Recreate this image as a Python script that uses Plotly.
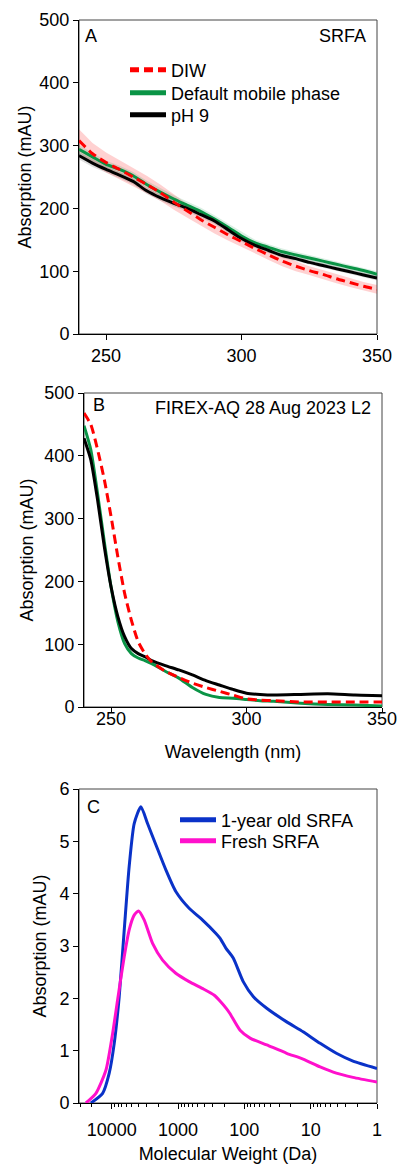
import plotly.graph_objects as go

# ---------------- Panel A data (SRFA) ----------------
wl_a = [240, 245, 250, 255, 260, 265, 270, 275, 280, 285, 290, 295, 300,
        305, 310, 315, 320, 325, 330, 335, 340, 345, 350]
diw_a = [308, 287, 273, 262, 250, 238, 225, 210, 196, 182, 170, 158, 147,
         136, 126, 116, 108, 101, 95, 88, 82, 76, 71]
diw_a_err = [18, 17, 16, 15, 15, 14, 13, 12, 11, 10, 10, 9, 9,
             8, 8, 8, 8, 7, 7, 7, 7, 7, 7]
dmp_a = [294, 282, 270, 262, 252, 238, 226, 215, 205, 195, 183, 170, 156,
         145, 138, 131, 126, 121, 116, 111, 106, 101, 95]
dmp_a_err = [7, 7, 6, 6, 6, 6, 6, 6, 6, 6, 6, 6, 6,
             5, 5, 5, 5, 5, 5, 5, 5, 5, 5]
ph9_a = [284, 272, 262, 253, 243, 228, 217, 208, 200, 190, 180, 166, 152,
         141, 133, 125, 120, 114, 109, 104, 99, 94, 89]
ph9_a_err = [6, 6, 5, 5, 5, 5, 5, 5, 5, 5, 5, 5, 5,
             4, 4, 4, 4, 4, 4, 4, 4, 4, 4]

# ---------------- Panel B data (FIREX-AQ 28 Aug 2023 L2) ----------------
wl_b = [240, 242.5, 245, 247.5, 250, 252.5, 255, 257.5, 260, 262.5, 265,
        270, 275, 280, 285, 290, 295, 300, 305, 310, 320, 330, 340, 350]
diw_b = [468, 450, 410, 362, 303, 239, 181, 138, 104, 85, 72,
         57, 47, 38, 31, 25, 19, 13, 11, 10, 8, 8, 8, 8]
dmp_b = [448, 410, 340, 263, 191, 136, 101, 85, 78, 74, 69,
         57, 46, 31, 20, 15, 14, 12, 10, 9, 6, 4, 3, 1.5]
ph9_b = [428, 394, 330, 255, 191, 144, 112, 93, 85, 80, 74,
         66, 59, 51, 42, 35, 28, 22, 20, 19, 20, 21, 19, 18]

# ---------------- Panel C data (SEC, molecular weight) ----------------
mw_old = [20600, 13700, 10900, 9160, 7710, 6470, 5450, 4580, 3630, 2880,
          2150, 1520, 1080, 680, 430, 268, 233, 190, 147, 104, 73, 46,
          23, 13, 7.2, 4.1, 2.3, 1.0]
abs_old = [0, 0.185, 0.57, 1.14, 2.03, 3.31, 4.52, 5.34, 5.66, 5.34,
           4.93, 4.45, 4.04, 3.72, 3.50, 3.24, 3.15, 2.96, 2.77, 2.32, 2.03, 1.81,
           1.55, 1.36, 1.14, 0.95, 0.80, 0.66]
mw_fresh = [24500, 17300, 12200, 9680, 8150, 6470, 5450, 4580, 3940, 3240,
            2420, 1710, 1080, 680, 430, 284, 233, 185, 165, 116, 82, 46,
            23, 13, 7.2, 4.1, 2.3, 1.0]
abs_fresh = [0, 0.185, 0.63, 1.33, 1.97, 2.80, 3.31, 3.59, 3.67, 3.50,
             3.05, 2.73, 2.48, 2.32, 2.19, 2.06, 1.95, 1.80, 1.71, 1.39, 1.24, 1.11,
             0.95, 0.84, 0.69, 0.57, 0.49, 0.40]

wl_ticks = [250, 300, 350]
abs_ticks = [0, 100, 200, 300, 400, 500]

RED = "#ff0000"
GREEN = "#0a9446"
BLACK = "#000000"
BLUE = "#0a32c8"
PINK = "#ff10cc"
FONT = "Liberation Sans, Arial, sans-serif"

W, H = 401, 1166


def xd(a, b):
    return [a / W, b / W]


def yd(top, bottom):
    return [1 - bottom / H, 1 - top / H]


fig = go.Figure()


def band(x, y, err, color, xa, ya):
    upper = [v + e for v, e in zip(y, err)]
    lower = [v - e for v, e in zip(y, err)]
    fig.add_trace(go.Scatter(x=list(x) + list(x)[::-1], y=upper + lower[::-1],
                             fill="toself", fillcolor=color, line=dict(width=0),
                             mode="lines", showlegend=False, hoverinfo="skip",
                             xaxis=xa, yaxis=ya))


# Panel A bands
band(wl_a, diw_a, diw_a_err, "rgba(255,0,0,0.18)", "x", "y")
band(wl_a, dmp_a, dmp_a_err, "rgba(10,148,70,0.15)", "x", "y")
band(wl_a, ph9_a, ph9_a_err, "rgba(0,0,0,0.13)", "x", "y")

DASH = "9px,5px"

for xa, ya, x, d, g, b in [("x", "y", wl_a, diw_a, dmp_a, ph9_a),
                           ("x2", "y2", wl_b, diw_b, dmp_b, ph9_b)]:
    fig.add_trace(go.Scatter(x=x, y=g, mode="lines", line=dict(color=GREEN, width=3, shape="spline", smoothing=0.6),
                             showlegend=False, xaxis=xa, yaxis=ya))
    fig.add_trace(go.Scatter(x=x, y=b, mode="lines", line=dict(color=BLACK, width=3, shape="spline", smoothing=0.6),
                             showlegend=False, xaxis=xa, yaxis=ya))
    fig.add_trace(go.Scatter(x=x, y=d, mode="lines",
                             line=dict(color=RED, width=3, dash=DASH, shape="spline", smoothing=0.6),
                             showlegend=False, xaxis=xa, yaxis=ya))

# Panel C
fig.add_trace(go.Scatter(x=mw_old, y=abs_old, mode="lines", line=dict(color=BLUE, width=3, shape="spline", smoothing=0.6),
                         showlegend=False, xaxis="x3", yaxis="y3"))
fig.add_trace(go.Scatter(x=mw_fresh, y=abs_fresh, mode="lines", line=dict(color=PINK, width=3, shape="spline", smoothing=0.6),
                         showlegend=False, xaxis="x3", yaxis="y3"))

# legend entries (one legend box per row, so row spacing matches)
legend_rows = [
    ("DIW", RED, DASH, "x", "y", "legend", 125, 70),
    ("Default mobile phase", GREEN, "solid", "x", "y", "legend2", 125, 93),
    ("pH 9", BLACK, "solid", "x", "y", "legend3", 125, 115),
    ("1-year old SRFA", BLUE, "solid", "x3", "y3", "legend4", 175, 820),
    ("Fresh SRFA", PINK, "solid", "x3", "y3", "legend5", 175, 841),
]
legend_layout = {}
for name, color, dash, xa, ya, lg, lx, ly in legend_rows:
    fig.add_trace(go.Scatter(x=[None], y=[None], mode="lines", name=name,
                             line=dict(color=color, width=5, dash=dash),
                             xaxis=xa, yaxis=ya, legend=lg))
    legend_layout[lg] = dict(x=lx / W, y=1 - ly / H, xanchor="left", yanchor="middle",
                             bgcolor="rgba(0,0,0,0)", font=dict(family=FONT, size=18),
                             itemwidth=36, tracegroupgap=0)

axis_common = dict(showline=True, linecolor="black", linewidth=1, ticks="outside", ticklen=5,
                   tickcolor="black", tickwidth=1, showgrid=False, zeroline=False, automargin=False,
                   tickfont=dict(family=FONT, size=18, color="black"))

fig.update_layout(
    width=W, height=H, autosize=False,
    margin=dict(l=0, r=0, t=0, b=0),
    paper_bgcolor="white", plot_bgcolor="white",
    font=dict(family=FONT, size=18, color="black"),
    xaxis=dict(domain=xd(79, 377), anchor="y", range=[240, 350], tickvals=wl_ticks, **axis_common),
    yaxis=dict(domain=yd(20, 334), anchor="x", range=[0, 500], tickvals=abs_ticks,
               title=dict(text="Absorption (mAU)", standoff=3, font=dict(size=18)), **axis_common),
    xaxis2=dict(domain=xd(84, 382), anchor="y2", range=[240, 350], tickvals=wl_ticks,
                ticklabelstandoff=-10,
                title=dict(text="Wavelength (nm)", standoff=17, font=dict(size=18)), **axis_common),
    yaxis2=dict(domain=yd(393, 707), anchor="x2", range=[0, 500], tickvals=abs_ticks,
                title=dict(text="Absorption (mAU)", standoff=6, font=dict(size=18)), **axis_common),
    xaxis3=dict(domain=xd(79, 377), anchor="y3", type="log", range=[4.493, 0],
                tick0=0, dtick=1, tickformat="d", ticklabelstandoff=5,
                minor=dict(ticks="outside", ticklen=3, tickcolor="black", dtick="D1", showgrid=False),
                title=dict(text="Molecular Weight (Da)", standoff=8, font=dict(size=18)), **axis_common),
    yaxis3=dict(domain=yd(789, 1103), anchor="x3", range=[0, 6], dtick=1,
                title=dict(text="Absorption (mAU)", standoff=8, font=dict(size=18)), **axis_common),
    showlegend=True,
    **legend_layout,
)

# frames (top/right borders in dark grey)
for xa, ya in [("x", "y"), ("x2", "y2"), ("x3", "y3")]:
    fig.add_shape(type="rect", xref=f"{xa} domain", yref=f"{ya} domain", x0=0, y0=0, x1=1, y1=1,
                  line=dict(color="#444444", width=1), layer="below")

ann = [
    dict(text="A", xref="x domain", yref="y domain", x=0.015, y=0.988, xanchor="left", yanchor="top"),
    dict(text="SRFA", xref="x domain", yref="y domain", x=0.97, y=0.988, xanchor="right", yanchor="top"),
    dict(text="B", xref="x2 domain", yref="y2 domain", x=0.025, y=1.0, xanchor="left", yanchor="top"),
    dict(text="FIREX-AQ 28 Aug 2023 L2", xref="x2 domain", yref="y2 domain", x=0.97, y=0.99,
         xanchor="right", yanchor="top"),
    dict(text="C", xref="x3 domain", yref="y3 domain", x=0.02, y=0.98, xanchor="left", yanchor="top"),
]
for a in ann:
    fig.add_annotation(showarrow=False, font=dict(family=FONT, size=18, color="black"), **a)

fig.write_html("out.html", config={"displayModeBar": False},
               post_script="document.body.style.margin='0';document.body.style.padding='0';")
